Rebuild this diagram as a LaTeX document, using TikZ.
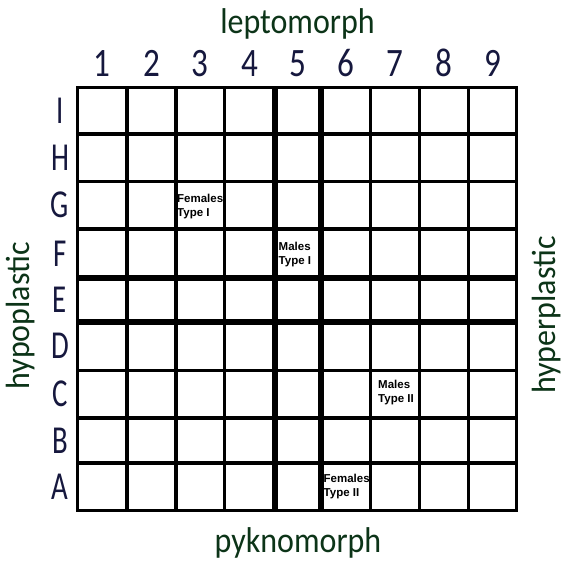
\documentclass[tikz,border=0pt]{standalone}
\usepackage{graphicx}
\usepackage{fontspec}
\setmainfont{Carlito}
\newfontfamily\labfont{Liberation Sans}
\definecolor{axgreen}{RGB}{12,52,24}
\definecolor{idxblue}{RGB}{22,24,62}
\tikzset{
  gridline/.style={line width=3.5pt, black},
  thickline/.style={line width=5.5pt, black},
  axislabel/.style={font=\fontsize{32}{36}\selectfont, text=axgreen, inner sep=0pt},
  idxlabel/.style={font=\fontsize{36}{40}\selectfont, text=idxblue, inner sep=0pt},
  celltag/.style={font=\labfont\bfseries\fontsize{11.5}{14}\selectfont, align=left, inner sep=0pt, anchor=north west, text=black},
}
\begin{document}
\begin{tikzpicture}[x=1pt,y=-1pt]
\useasboundingbox (0,0) rectangle (570,563);
\fill[white] (0,0) rectangle (570,563);
% grid lines
\foreach \x in {127,176,224.5,370.5,419.5,468.5}
  \draw[gridline] (\x,87.5) -- (\x,510.5);
\foreach \y in {134,181.5,229,370.5,418,463}
  \draw[gridline] (77.5,\y) -- (516.5,\y);
\foreach \x in {275,321}
  \draw[thickline] (\x,87.5) -- (\x,510.5);
\foreach \y in {278,322}
  \draw[thickline] (77.5,\y) -- (516.5,\y);
\draw[gridline] (77.5,87.5) rectangle (516.5,510.5);
% column numbers
\foreach \n/\x in {1/102.25,2/151.5,3/200.25,4/249.75,5/298,6/345.75,7/395,8/444,9/492.5}
  \node[idxlabel, anchor=base] (col\n) at (\x,76) {\scalebox{0.92}[1.12]{\n}};
% row letters
\foreach \l/\y in {I/110.75,H/157.75,G/205.25,F/253.5,E/300,D/346.25,C/394.25,B/440.5,A/486.75}
  \node[idxlabel, anchor=center] (row\l) at (60,\y) {\scalebox{0.8}[1.1]{\l}};
% axis labels
\node[axislabel, anchor=base] (lepto) at (297.5,33.5) {\scalebox{1}[1.12]{leptomorph}};
\node[axislabel, anchor=base] (pykno) at (298,552.5) {\scalebox{1}[1.12]{pyknomorph}};
\node[axislabel, anchor=base, rotate=90] (hypo) at (29,316) {\scalebox{1}[1.05]{hypoplastic}};
\node[axislabel, anchor=base, rotate=90] (hyper) at (555.5,315) {\scalebox{1}[1.05]{hyperplastic}};
% cell tags
\node[celltag] (femI) at (177,193.5) {Females\\Type I};
\node[celltag] (malI) at (278.5,242) {Males\\Type I};
\node[celltag] (malII) at (378,380) {Males\\Type II};
\node[celltag] (femII) at (323.5,474) {Females\\Type II};
\end{tikzpicture}
\end{document}
